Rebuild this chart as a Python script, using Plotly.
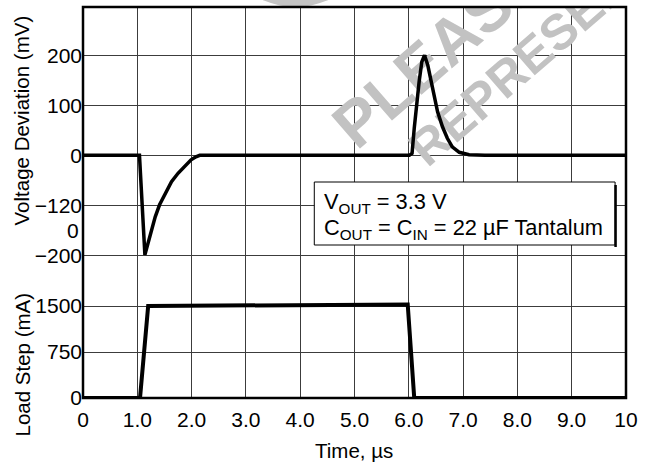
import math
import plotly.graph_objects as go

# ---------------- data ----------------
VOLT_TIME = [0, 1.04, 1.14, 1.20, 1.26, 1.33, 1.41, 1.52, 1.63, 1.75, 1.87, 1.99, 2.08, 2.15,
             6.01, 6.06, 6.10, 6.14, 6.19, 6.24, 6.29, 6.35, 6.41, 6.47, 6.53, 6.62, 6.71, 6.80,
             6.93, 7.11, 7.40, 10]
VOLT_MV = [0, 0, -199, -176, -149, -123, -99, -76, -53, -36, -23, -9, -3, 0,
           0, 4, 54, 100, 147, 187, 200, 180, 147, 114, 87, 57, 34, 17,
           6, 1, 0, 0]

LOAD_TIME = [0, 1.05, 1.2, 5.98, 6.1, 10]
LOAD_MA = [0, 0, 1500, 1525, 0, 0]

X_TICK_VALS = [0, 1, 2, 3, 4, 5, 6, 7, 8, 9, 10]
X_TICK_TEXT = ["0", "1.0", "2.0", "3.0", "4.0", "5.0", "6.0", "7.0", "8.0", "9.0", "10"]

VOLT_TICK_VALS = [200, 100, 0, -100, -200]
VOLT_TICK_TEXT = ["200", "100", "0", "\u2212120", "\u2212200"]
VOLT_EXTRA_LABEL_VAL = -151
VOLT_EXTRA_LABEL_TEXT = "0"

LOAD_TICK_VALS = [1500, 750, 0]
LOAD_TICK_TEXT = ["1500", "750", "0"]

BOX_LINE1 = "V<sub>OUT</sub> = 3.3 V"
BOX_LINE2 = "C<sub>OUT</sub> = C<sub>IN</sub> = 22 \u00b5F Tantalum"

# ---------------- layout helpers ----------------
W, H = 645, 464
ML, MR, MT, MB = 83, 15, 7, 66
PW, PH = W - ML - MR, H - MT - MB
X_RANGE = [0, 10]
Y_RANGE = [-485.4, 296.6]
Y2_RANGE = [0, 6375]


def px_x(px):
    return (px - ML) / PW


def px_y(py):
    return (H - MB - py) / PH


def px_to_x(px):
    return X_RANGE[0] + px_x(px) * (X_RANGE[1] - X_RANGE[0])


def px_to_y(py):
    return Y_RANGE[0] + px_y(py) * (Y_RANGE[1] - Y_RANGE[0])


FONT = "Liberation Sans, Arial, Helvetica, sans-serif"
GRID = "#3c3c3c"
WM_COLOR = "#c2c2c2"

fig = go.Figure()
fig.add_trace(go.Scatter(x=VOLT_TIME, y=VOLT_MV, mode="lines", yaxis="y",
                         line=dict(color="black", width=3.5), hoverinfo="skip"))
fig.add_trace(go.Scatter(x=LOAD_TIME, y=LOAD_MA, mode="lines", yaxis="y2",
                         line=dict(color="black", width=4), hoverinfo="skip"))

tickfont = dict(family=FONT, size=21, color="black")
titlefont = dict(family=FONT, size=20.5, color="black")

fig.update_layout(
    width=W, height=H,
    margin=dict(l=ML, r=MR, t=MT, b=MB),
    paper_bgcolor="white", plot_bgcolor="white",
    showlegend=False,
    font=dict(family=FONT, color="black"),
    xaxis=dict(range=X_RANGE, tickvals=X_TICK_VALS, ticktext=X_TICK_TEXT,
               showgrid=True, gridcolor=GRID, gridwidth=1, zeroline=False,
               showline=False, ticks="", tickfont=tickfont, ticklabelstandoff=7),
    yaxis=dict(range=Y_RANGE, tickvals=VOLT_TICK_VALS, ticktext=VOLT_TICK_TEXT,
               showgrid=True, gridcolor=GRID, gridwidth=1, zeroline=False,
               showline=False, ticks="", tickfont=tickfont),
    yaxis2=dict(range=Y2_RANGE, overlaying="y", side="left",
                tickvals=LOAD_TICK_VALS, ticktext=LOAD_TICK_TEXT,
                showgrid=True, gridcolor=GRID, gridwidth=1, zeroline=False,
                showline=False, ticks="", tickfont=tickfont),
)


def watermark(text, cx, cy, size, angle_deg=41.0, half=110):
    a = math.radians(angle_deg)
    dx, dy = math.cos(a) * half, -math.sin(a) * half
    return dict(type="line", xref="x", yref="y", layer="between",
                x0=px_to_x(cx - dx), y0=px_to_y(cy - dy),
                x1=px_to_x(cx + dx), y1=px_to_y(cy + dy),
                line=dict(color="rgba(0,0,0,0)", width=1),
                label=dict(text=text, textposition="middle", yanchor="middle",
                           xanchor="center", textangle=-angle_deg,
                           font=dict(family=FONT, size=size, color=WM_COLOR, weight="bold")))


shapes = []
# faint watermark disc at the top edge
cx, cy, r = 297, -74, 81
shapes.append(dict(type="circle", xref="paper", yref="paper",
                   x0=px_x(cx - r), x1=px_x(cx + r), y0=px_y(cy + r), y1=px_y(cy - r),
                   fillcolor="#c4c4c4", line=dict(width=0), layer="below"))
# watermark words (between grid and traces)
shapes.append(watermark("PLEASE", 437.5, 46, 64))
shapes.append(watermark("REPRESENT", 531.7, 51.7, 50))
# legend/info box
shapes.append(dict(type="rect", xref="paper", yref="paper",
                   x0=px_x(316), x1=px_x(619), y0=px_y(245), y1=px_y(182),
                   fillcolor="white", line=dict(color="black", width=1), layer="above"))
shapes.append(dict(type="line", xref="paper", yref="paper",
                   x0=px_x(619.5), x1=px_x(619.5), y0=px_y(247), y1=px_y(185),
                   line=dict(color="black", width=2.5), layer="above"))
# plot frame
shapes.append(dict(type="rect", xref="paper", yref="paper", x0=0, x1=1, y0=0, y1=1,
                   line=dict(color="black", width=2.5), layer="above"))
fig.update_layout(shapes=shapes)

ann = []
ann.append(dict(text=VOLT_EXTRA_LABEL_TEXT, xref="paper", yref="y", x=0, y=VOLT_EXTRA_LABEL_VAL,
                xanchor="right", yanchor="middle", xshift=-2, showarrow=False, font=tickfont))
ann.append(dict(text="Voltage Deviation (mV)", xref="paper", yref="paper",
                x=px_x(22), y=px_y(120), textangle=-90, showarrow=False,
                xanchor="center", yanchor="middle", font=titlefont))
ann.append(dict(text="Load Step (mA)", xref="paper", yref="paper",
                x=px_x(22), y=px_y(364), textangle=-90, showarrow=False,
                xanchor="center", yanchor="middle", font=titlefont))
ann.append(dict(text="Time, \u00b5s", xref="paper", yref="paper",
                x=px_x(356), y=px_y(450), showarrow=False,
                xanchor="center", yanchor="middle", font=titlefont))
ann.append(dict(text=BOX_LINE1, xref="paper", yref="paper", x=px_x(324), y=px_y(203),
                xanchor="left", yanchor="middle", showarrow=False,
                font=dict(family=FONT, size=21.8, color="black")))
ann.append(dict(text=BOX_LINE2, xref="paper", yref="paper", x=px_x(324), y=px_y(229),
                xanchor="left", yanchor="middle", showarrow=False,
                font=dict(family=FONT, size=21.8, color="black")))
fig.update_layout(annotations=ann)

fig.write_html("out.html",
               config={"displayModeBar": False, "staticPlot": True},
               post_script="document.body.style.margin='0';document.body.style.overflow='hidden';")
